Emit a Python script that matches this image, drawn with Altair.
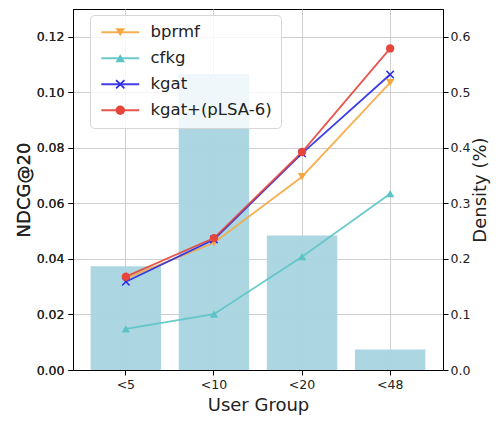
import altair as alt
import pandas as pd

categories = ["<5", "<10", "<20", "<48"]
density = [0.187, 0.533, 0.242, 0.037]
methods = ["bprmf", "cfkg", "kgat", "kgat+(pLSA-6)"]
bprmf = [0.0330, 0.0458, 0.0696, 0.1035]
cfkg = [0.0148, 0.0201, 0.0408, 0.0635]
kgat = [0.0318, 0.0470, 0.0780, 0.1064]
kgat_plsa = [0.0336, 0.0475, 0.0785, 0.1158]
colors = ["#f5a742", "#5cc4c4", "#2a2ae8", "#e5453a"]
x_path = "M-1,-0.75L-0.75,-1L0,-0.25L0.75,-1L1,-0.75L0.25,0L1,0.75L0.75,1L0,0.25L-0.75,1L-1,0.75L-0.25,0Z"
shapes = ["triangle-down", "triangle-up", x_path, "circle"]

bars_df = pd.DataFrame({"group": categories, "density": density})
rows = []
for m, vals in zip(methods, [bprmf, cfkg, kgat, kgat_plsa]):
    for g, v in zip(categories, vals):
        rows.append({"group": g, "ndcg": v, "method": m, "method2": m})
lines_df = pd.DataFrame(rows)

FONT = "DejaVu Sans"
xenc = alt.X(
    "group:N",
    sort=categories,
    scale=alt.Scale(paddingInner=0.2, paddingOuter=0.2),
    axis=alt.Axis(title="User Group", labelAngle=0, grid=True, gridColor="#cfcfcf",
                  labelFontSize=12.5, titleFontSize=18, titlePadding=6,
                  labelPadding=3, tickSize=5, titleFontWeight="normal"),
)

bars = alt.Chart(bars_df).mark_bar(color="#a9d4e1", opacity=0.95).encode(
    x=xenc,
    y=alt.Y("density:Q", scale=alt.Scale(domain=[0, 0.65], nice=False, zero=True),
            axis=alt.Axis(orient="right", title="Density (%)", values=[0, 0.1, 0.2, 0.3, 0.4, 0.5, 0.6],
                          format=".1f", grid=False, labelFontSize=12.5, titleFontSize=18,
                          titleFontWeight="normal", tickSize=5, labelPadding=2, titlePadding=2,
                          titleAngle=270, titleBaseline="top")),
)

yenc = alt.Y("ndcg:Q", scale=alt.Scale(domain=[0, 0.13], nice=False, zero=True),
             axis=alt.Axis(title="NDCG@20", values=[0, 0.02, 0.04, 0.06, 0.08, 0.10, 0.12],
                           format=".2f", grid=True, gridColor="#cfcfcf", labelFontSize=12.5,
                           titleFontSize=18, titleFontWeight="normal", tickSize=5,
                           labelPadding=4, titlePadding=3))

lines = alt.Chart(lines_df).mark_line(strokeWidth=1.8, opacity=0.9).encode(
    x=xenc,
    y=yenc,
    stroke=alt.Stroke("method:N", scale=alt.Scale(range=colors),
                      legend=alt.Legend(title=None, orient="none", legendX=17, legendY=6,
                                        symbolType="M-4,0L4,0", symbolSize=90,
                                        symbolStrokeWidth=1.8, symbolOffset=13,
                                        labelFontSize=16.5, labelOffset=22, rowPadding=9,
                                        padding=9, fillColor="rgba(255,255,255,0.8)",
                                        strokeColor="#d6d6d6", cornerRadius=4,
                                        labelColor="#222")),
)

points = alt.Chart(lines_df).mark_point(filled=True, size=70, opacity=1, strokeWidth=0).encode(
    x=xenc,
    y=yenc,
    fill=alt.Fill("method2:N", scale=alt.Scale(range=colors),
                  legend=alt.Legend(title=None, orient="none", legendX=17, legendY=6,
                                    symbolSize=90, symbolOffset=13, symbolStrokeWidth=0,
                                    labelFontSize=16.5, labelOffset=22, rowPadding=9,
                                    padding=9, labelOpacity=0)),
    shape=alt.Shape("method2:N", scale=alt.Scale(range=shapes),
                    legend=alt.Legend(title=None, orient="none", legendX=17, legendY=6,
                                      symbolSize=90, symbolOffset=13, symbolStrokeWidth=0,
                                      labelFontSize=16.5, labelOffset=22, rowPadding=9,
                                      padding=9, labelOpacity=0)),
)

chart = alt.layer(bars, lines, points).resolve_scale(y="independent").properties(
    width=370, height=361,
    autosize=alt.AutoSizeParams(type="none"),
    padding={"left": 65, "right": 48, "top": 1, "bottom": 46},
).configure(font=FONT).configure_view(stroke="black", strokeWidth=1).configure_axis(
    domainColor="black", tickColor="black", labelColor="#222", titleColor="#222",
    labelFont=FONT, titleFont=FONT
).configure_legend(labelFont=FONT)

chart.save("out.html", embed_options={"renderer": "svg", "actions": False})
